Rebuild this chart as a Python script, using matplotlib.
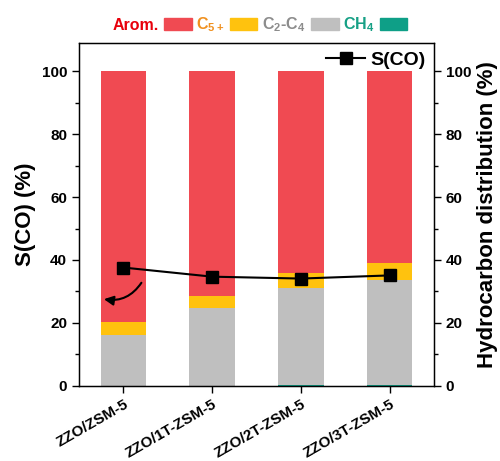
import matplotlib.pyplot as plt
from matplotlib.patches import Patch
from matplotlib.lines import Line2D

plt.rcParams['font.family'] = ['Liberation Sans', 'DejaVu Sans']
plt.rcParams['font.weight'] = 'bold'
plt.rcParams['mathtext.fontset'] = 'custom'
plt.rcParams['mathtext.rm'] = 'Liberation Sans:bold'
plt.rcParams['mathtext.bf'] = 'Liberation Sans:bold'
plt.rcParams['mathtext.default'] = 'bf'

catalysts = ["ZZO/ZSM-5", "ZZO/1T-ZSM-5", "ZZO/2T-ZSM-5", "ZZO/3T-ZSM-5"]
ch4 = [0.0, 0.0, 0.4, 0.4]
c2_c4 = [16.3, 24.7, 30.6, 33.4]
c5_plus = [4.0, 3.9, 4.8, 5.3]
arom = [100 - a - b - c for a, b, c in zip(ch4, c2_c4, c5_plus)]
s_co = [37.6, 34.7, 34.1, 35.1]

red = "#F04A52"
yellow = "#FFC20E"
gray = "#BFBFBF"
teal = "#0E9F87"

fig, ax = plt.subplots(figsize=(5, 4.61), dpi=100)
fig.subplots_adjust(left=0.158, right=0.868, top=0.907, bottom=0.163)

x = list(range(len(catalysts)))
w = 0.51
bottom = [0.0] * len(x)
for vals, col in [(ch4, teal), (c2_c4, gray), (c5_plus, yellow), (arom, red)]:
    ax.bar(x, vals, w, bottom=bottom, color=col, zorder=1)
    bottom = [b + v for b, v in zip(bottom, vals)]

ax.plot(x, s_co, color="black", marker="s", markersize=8, linewidth=1.5, zorder=3)

# curved arrow pointing at the left axis
ax.annotate("", xy=(-0.25, 27.7), xytext=(0.22, 33.5),
            arrowprops=dict(arrowstyle="-|>", color="black", lw=1.5,
                            connectionstyle="arc3,rad=-0.35", mutation_scale=14))

ax.set_xlim(-0.5, 3.5)
ax.set_ylim(0, 109)
ax.set_xticks(x)
ax.set_xticklabels(catalysts, rotation=30, ha="right", rotation_mode="anchor",
                   fontsize=11, fontweight="bold")
ax.set_yticks(range(0, 101, 20))
ax.set_yticks(range(10, 101, 20), minor=True)
ax.tick_params(axis="both", which="major", length=5, width=1)
ax.tick_params(axis="x", pad=3)
ax.tick_params(axis="y", labelsize=11)
ax.tick_params(axis="y", which="minor", length=3, width=1)
ax.set_ylabel("S(CO) (%)", fontsize=16, fontweight="bold", labelpad=4)
for s in ax.spines.values():
    s.set_linewidth(1)

ax2 = ax.twinx()
ax2.set_ylim(0, 109)
ax2.set_yticks(range(0, 101, 20))
ax2.set_yticks(range(10, 101, 20), minor=True)
ax2.tick_params(axis="y", which="major", length=5, width=1, labelsize=11)
ax2.tick_params(axis="y", which="minor", length=3, width=1)
ax2.set_ylabel("Hydrocarbon distribution (%)", fontsize=16, fontweight="bold", labelpad=4)

ax.legend(handles=[Line2D([], [], color="black", marker="s", markersize=8, linewidth=1.5)],
          labels=["S(CO)"], loc="upper right", frameon=False, fontsize=14,
          handlelength=2.0, handletextpad=0.25, borderaxespad=0.05)

handles = [Patch(color=red), Patch(color=yellow), Patch(color=gray), Patch(color=teal)]
labels = ["Arom.", r"C$_{5+}$", r"C$_2$-C$_4$", r"CH$_4$"]
leg = fig.legend(handles, labels, ncol=4, loc="center", bbox_to_anchor=(0.52, 0.946),
                 frameon=False, markerfirst=False, fontsize=11.5, handlelength=1.75,
                 handleheight=0.85, handletextpad=0.3, columnspacing=0.3,
                 labelcolor=["#E8000B", "#F0901E", "#8C8C8C", "#16A085"])

plt.savefig("out.png", dpi=100)
plt.close(fig)
